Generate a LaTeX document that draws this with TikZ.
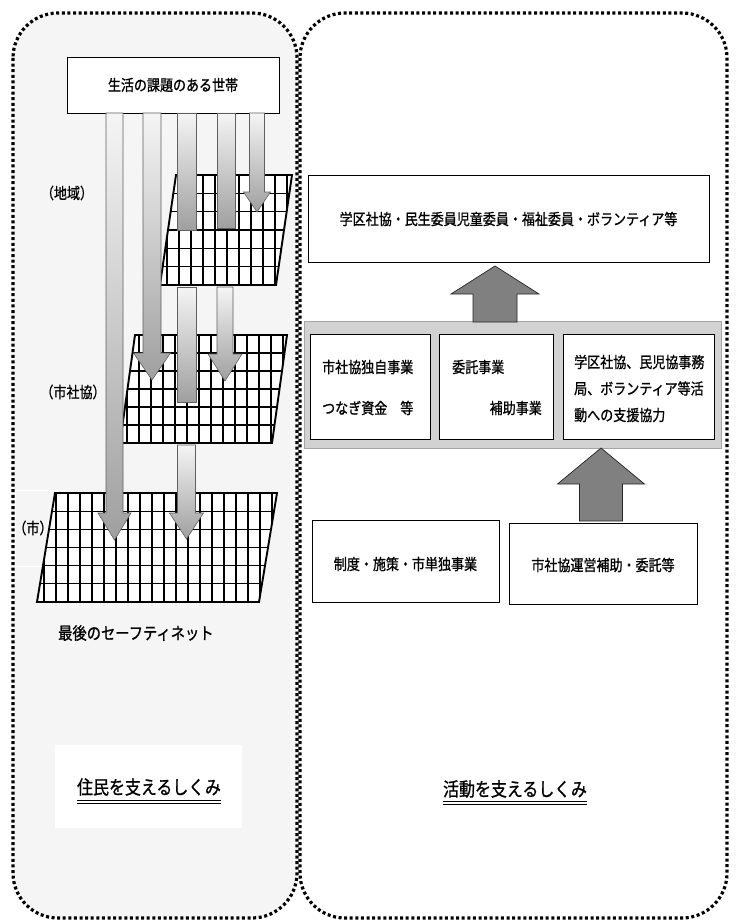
\documentclass[tikz,border=0pt]{standalone}
\usepackage{fontspec}
\newfontfamily\jp[FakeStretch=0.84, FakeBold=0.9]{Noto Sans CJK JP}
\newcommand\netgrid[5]{%
  \begin{scope}
    \clip (#3,#1) -- (#4,#1) -- (#4-#5,#2) -- (#3-#5,#2) -- cycle;
    \fill[white] (#3-#5-2,#1-2) rectangle (#4+2,#2+2);
    \foreach \k in {1,...,5}
      \draw[gridline] (#3-#5-5,{#1+\k*(#2-#1)/6}) -- (#4+5,{#1+\k*(#2-#1)/6});
    \foreach \xx in {0,12,...,264}
      \draw[gridline] ({#3-#5+7+\xx},#1) -- ({#3-#5+7+\xx},#2);
  \end{scope}
  \draw[gridedge] (#3,#1) -- (#4,#1) -- (#4-#5,#2) -- (#3-#5,#2) -- cycle;}
\newcommand\dnarrow[6]{% cx, ytop, ytip, half body, half head, head length
  \draw[arr] (#1-#4,#2) -- (#1+#4,#2) -- (#1+#4,#3-#6) -- (#1+#5,#3-#6) -- (#1,#3)
     -- (#1-#5,#3-#6) -- (#1-#4,#3-#6) -- cycle;}
\newcommand\uparrowshape[6]{% cx, ybottom, ytip, half body, half head, head length
  \draw[uparr] (#1-#4,#2) -- (#1+#4,#2) -- (#1+#4,#3+#6) -- (#1+#5,#3+#6) -- (#1,#3)
     -- (#1-#5,#3+#6) -- (#1-#4,#3+#6) -- cycle;}
\begin{document}
\begin{tikzpicture}[x=1pt,y=-1pt,
  panel/.style={line width=3.2pt, dash pattern=on 3pt off 2.6pt, rounded corners=45pt},
  gridline/.style={line width=1.2pt, black},
  gridedge/.style={line width=1.9pt, black},
  arr/.style={draw=gray!75!black, line width=0.6pt, top color=gray!8, bottom color=gray!75},
  uparr/.style={draw=black!85, line width=0.7pt, fill=gray},
  box/.style={draw=black, fill=white, line width=0.8pt, inner sep=0pt},
  lbl/.style={font=\jp\fontsize{15.5}{18}\selectfont, inner sep=0pt},
  biglbl/.style={font=\jp\fontsize{19}{21}\selectfont, inner sep=0pt}]
\useasboundingbox (0,0) rectangle (737,923);
% panels
\draw[panel, fill=gray!8] (13,13) rectangle (297,918);
\draw[panel, fill=white] (300,13) rectangle (727,918);
% white text-box trace near (市)
\draw[white, line width=0.8pt] (15,490) rectangle (64,566);
% left column
\node[box, minimum width=212pt, minimum height=56pt] (household) at (173,85) {};
\node[lbl] (householdtxt) at (173,85) {生活の課題のある世帯};
\netgrid{175}{285}{176}{292}{16}
\netgrid{335}{443}{135}{287}{15}
\netgrid{493}{602}{55}{277}{18}
% arrows from the household box
\dnarrow{114.5}{113}{540}{8.5}{16.5}{27}
\dnarrow{152}{113}{380}{9}{18.5}{27}
\draw[arr] (177,113) rectangle (196,230);
\draw[arr] (217,113) rectangle (235,228);
\dnarrow{257}{113}{212}{7.5}{13.5}{20}
% arrows below grid 1
\draw[arr] (177,287) rectangle (196,402);
\dnarrow{225}{287}{381}{8}{17}{27}
% arrow below grid 2
\dnarrow{186.5}{445}{539}{9}{17}{26}
\node[lbl] (chiiki) at (67,193) {（地域）};
\node[lbl] (shishakyo) at (73,392) {（市社協）};
\node[lbl] (shi) at (33,528) {（市）};
\node[lbl, font=\jp\fontsize{17}{19}\selectfont, anchor=west] (safety) at (58,633) {最後のセーフティネット};
% bottom-left caption
\fill[white] (55,745) rectangle (242,828);
\node[biglbl] (jumin) at (149,787) {住民を支えるしくみ};
\draw[line width=1pt] (jumin.west |- 0,800) -- (jumin.east |- 0,800);
\draw[line width=1pt] (jumin.west |- 0,803) -- (jumin.east |- 0,803);
% right column
\node[box, minimum width=401pt, minimum height=87pt] (gakku) at (508.5,218.5) {};
\node[lbl] (gakkutxt) at (508.5,219) {学区社協・民生委員児童委員・福祉委員・ボランティア等};
\node[draw=gray!70, fill=gray!35, line width=0.8pt, minimum width=417pt, minimum height=127pt, inner sep=0pt] (band) at (512.5,384.5) {};
\uparrowshape{495}{322}{266}{22}{44}{28}
\node[box, minimum width=120pt, minimum height=105pt] (boxa) at (370,386.5) {};
\node[box, minimum width=114pt, minimum height=105pt] (boxb) at (496,386.5) {};
\node[box, minimum width=151pt, minimum height=105pt] (boxc) at (638.5,386.5) {};
\node[lbl, anchor=west] (a1) at (322,367) {市社協独自事業};
\node[lbl, anchor=west] (a2) at (322,408) {つなぎ資金　等};
\node[lbl, anchor=west] (b1) at (452,367) {委託事業};
\node[lbl, anchor=east] (b2) at (542,408) {補助事業};
\node[lbl, anchor=west] (c1) at (574,362) {学区社協、民児協事務};
\node[lbl, anchor=west] (c2) at (574,388.5) {局、ボランティア等活};
\node[lbl, anchor=west] (c3) at (574,415) {動への支援協力};
\uparrowshape{601}{521}{448}{21.5}{43.5}{36}
\node[box, minimum width=187pt, minimum height=82pt] (boxd) at (405.5,561) {};
\node[lbl] (dtxt) at (405.5,564) {制度・施策・市単独事業};
\node[box, minimum width=188pt, minimum height=81pt] (boxe) at (603,563.5) {};
\node[lbl] (etxt) at (603,565) {市社協運営補助・委託等};
\node[biglbl] (katsudo) at (515,789) {活動を支えるしくみ};
\draw[line width=1pt] (katsudo.west |- 0,801) -- (katsudo.east |- 0,801);
\draw[line width=1pt] (katsudo.west |- 0,804) -- (katsudo.east |- 0,804);
\end{tikzpicture}
\end{document}
